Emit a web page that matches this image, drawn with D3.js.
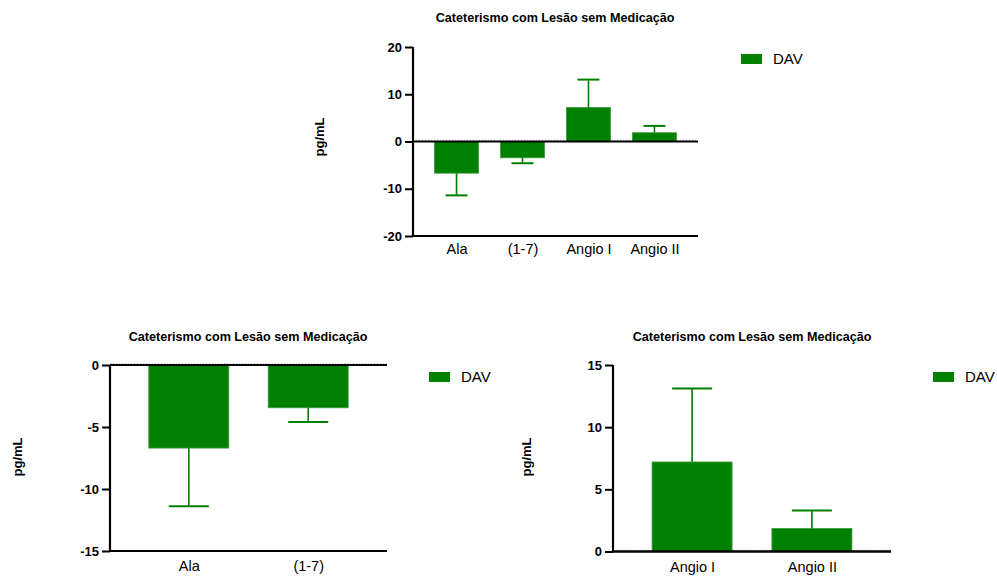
<!DOCTYPE html>
<html><head><meta charset="utf-8">
<script src="https://cdn.jsdelivr.net/npm/d3@7"></script>
<style>body{margin:0;background:#fff}svg{display:block}text{font-family:"Liberation Sans",Arial,sans-serif}</style>
</head><body><svg id="c" width="997" height="576"></svg>
<script>
const categories = ["Ala", "(1-7)", "Angio I", "Angio II"];
const means = [-6.7, -3.45, 7.2, 1.85];
const errorEnds = [-11.4, -4.6, 13.1, 3.3];
const seriesName = "DAV";
const title = "Cateterismo com Lesão sem Medicação";
const yLabel = "pg/mL";
const ticksTop = [20, 10, 0, -10, -20];
const ticksLeft = [0, -5, -10, -15];
const ticksRight = [0, 5, 10, 15];

const data = categories.map((c, i) => ({cat: c, v: means[i], e: errorEnds[i]}));
const svg = d3.select("#c");
const GREEN = "#008000";

function panel(o) {
  const g = svg.append("g");
  const rows = data.filter(d => o.cats.includes(d.cat));
  const x = d3.scalePoint().domain(o.cats).range([o.x0, o.x1]).padding(0.66);
  const y = d3.scaleLinear().domain(o.domain).range([o.yb, o.yt]);
  const bw = o.bw;
  // dotted zero reference
  g.append("line").attr("x1", o.x0).attr("x2", o.x1).attr("y1", y(0) - 1.5).attr("y2", y(0) - 1.5)
    .attr("stroke", "#bbb").attr("stroke-width", 1).attr("stroke-dasharray", "1,2");
  // bars
  g.selectAll("rect.bar").data(rows).join("rect")
    .attr("x", d => x(d.cat) - bw / 2).attr("width", bw)
    .attr("y", d => y(Math.max(0, d.v))).attr("height", d => Math.abs(y(d.v) - y(0)))
    .attr("fill", GREEN).attr("stroke", "#3a9a3a").attr("stroke-width", 0.8);
  // error bars
  g.selectAll("line.eb").data(rows).join("line")
    .attr("x1", d => x(d.cat)).attr("x2", d => x(d.cat))
    .attr("y1", d => y(d.v)).attr("y2", d => y(d.e))
    .attr("stroke", GREEN).attr("stroke-width", 1.6);
  g.selectAll("line.cap").data(rows).join("line")
    .attr("x1", d => x(d.cat) - bw / 4).attr("x2", d => x(d.cat) + bw / 4)
    .attr("y1", d => y(d.e)).attr("y2", d => y(d.e))
    .attr("stroke", GREEN).attr("stroke-width", 2);
  // y axis
  const ya = g.append("g").attr("transform", `translate(${o.x0},0)`)
    .call(d3.axisLeft(y).tickValues(o.ticks).tickSize(8).tickPadding(3).tickFormat(d => String(d)));
  ya.select(".domain").attr("stroke", "#000").attr("stroke-width", 2.2).attr("d", `M0,${o.yt}V${o.yb}`);
  ya.selectAll(".tick line").attr("stroke", "#000").attr("stroke-width", 2);
  ya.selectAll(".tick text").attr("font-size", 13).attr("font-weight", "bold").attr("fill", "#000")
    .style("font-family", "Liberation Sans, Arial, sans-serif");
  // zero line
  g.append("line").attr("x1", o.x0).attr("x2", o.x1).attr("y1", y(0)).attr("y2", y(0))
    .attr("stroke", "#000").attr("stroke-width", 2.2);
  // bottom x axis
  const xa = g.append("g").attr("transform", `translate(0,${o.yb})`)
    .call(d3.axisBottom(x).tickSize(0).tickPadding(o.tp));
  xa.select(".domain").attr("stroke", "#000").attr("stroke-width", 2.2).attr("d", `M${o.x0},0H${o.x1}`);
  xa.selectAll(".tick text").attr("font-size", 14.5).attr("fill", "#000")
    .style("font-family", "Liberation Sans, Arial, sans-serif");
  // title
  g.append("text").attr("x", o.tx).attr("y", o.ty).attr("text-anchor", "middle")
    .attr("font-size", 12.6).attr("font-weight", "bold").text(title);
  // y label
  g.append("text").attr("transform", `translate(${o.lx},${o.ly}) rotate(-90)`)
    .attr("text-anchor", "middle").attr("font-size", 13).attr("font-weight", "bold").text(yLabel);
  // legend
  g.append("rect").attr("x", o.legX).attr("y", o.legY).attr("width", 21).attr("height", 10).attr("fill", GREEN);
  g.append("text").attr("x", o.legX + 32).attr("y", o.legY + 10).attr("font-size", 15).text(seriesName);
}

panel({cats: categories, domain: [-20, 20], ticks: ticksTop, x0: 413, x1: 698, yt: 47, yb: 236, bw: 44, tp: 8,
  tx: 555, ty: 22, lx: 324, ly: 137, legX: 741, legY: 54});
panel({cats: ["Ala", "(1-7)"], domain: [-15, 0], ticks: ticksLeft, x0: 110, x1: 387, yt: 365, yb: 551, bw: 80, tp: 10,
  tx: 248, ty: 341, lx: 22, ly: 457, legX: 429, legY: 372});
panel({cats: ["Angio I", "Angio II"], domain: [0, 15], ticks: ticksRight, x0: 613, x1: 891, yt: 365, yb: 551.5, bw: 80, tp: 10,
  tx: 752, ty: 341, lx: 531, ly: 457, legX: 933, legY: 372});
</script></body></html>
